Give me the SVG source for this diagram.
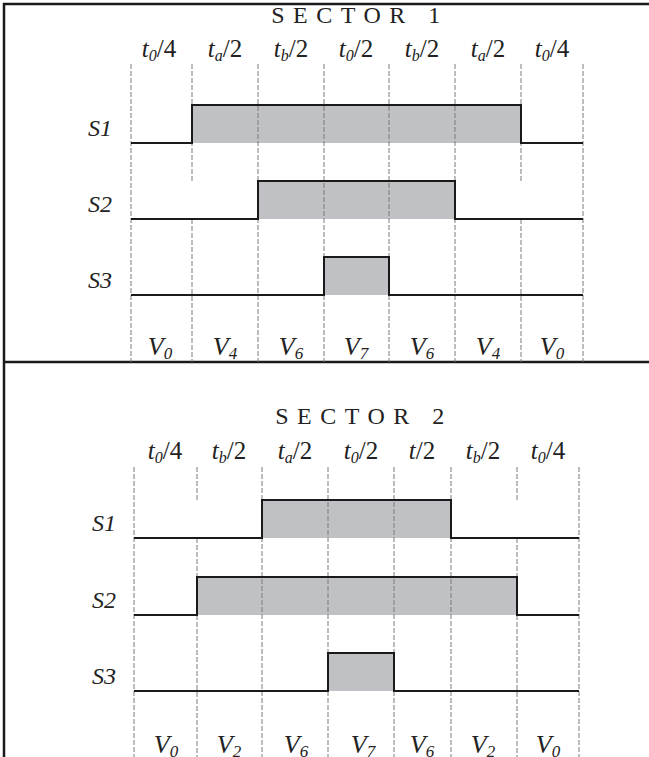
<svg xmlns="http://www.w3.org/2000/svg" width="649" height="757" viewBox="0 0 649 757">
<style>
.frame{stroke:#1a1a1a;stroke-width:2.5;fill:none}
.dash{stroke:#7a7a7a;stroke-width:1;stroke-dasharray:5,2;fill:none}
.sig{stroke:#1a1a1a;stroke-width:2;fill:none}
.fill{fill:#c0c1c4;stroke:none}
.title{font-family:"Liberation Serif",serif;font-size:24px;letter-spacing:8.5px;fill:#222;text-anchor:middle}
.lab{font-family:"Liberation Serif",serif;font-size:25px;fill:#222;text-anchor:middle}
.nm{font-family:"Liberation Serif",serif;font-size:24px;font-style:italic;fill:#222;text-anchor:middle}
.it{font-style:italic}
.sub{font-size:16px;font-style:italic}
.v{font-family:"Liberation Serif",serif;font-size:26px;font-style:italic;fill:#222;text-anchor:middle}
.vs{font-size:17px}
</style>
<rect width="649" height="757" fill="#fff"/>
<g id="frame">
<path class="frame" d="M4,757 V4 H649 M4,362 H649"/>
</g>
<g id="sector1">
<text class="title" x="360" y="23">SECTOR 1</text>
<g id="s1-times">
<text class="lab" x="159" y="57"><tspan class="it">t</tspan><tspan class="sub" dy="4">0</tspan><tspan dy="-4">/4</tspan></text>
<text class="lab" x="225" y="57"><tspan class="it">t</tspan><tspan class="sub" dy="4">a</tspan><tspan dy="-4">/2</tspan></text>
<text class="lab" x="291" y="57"><tspan class="it">t</tspan><tspan class="sub" dy="4">b</tspan><tspan dy="-4">/2</tspan></text>
<text class="lab" x="356" y="57"><tspan class="it">t</tspan><tspan class="sub" dy="4">0</tspan><tspan dy="-4">/2</tspan></text>
<text class="lab" x="422" y="57"><tspan class="it">t</tspan><tspan class="sub" dy="4">b</tspan><tspan dy="-4">/2</tspan></text>
<text class="lab" x="488" y="57"><tspan class="it">t</tspan><tspan class="sub" dy="4">a</tspan><tspan dy="-4">/2</tspan></text>
<text class="lab" x="552" y="57"><tspan class="it">t</tspan><tspan class="sub" dy="4">0</tspan><tspan dy="-4">/4</tspan></text>
</g>
<g id="s1-fills">
<rect class="fill" x="192" y="105" width="329" height="38"/>
<rect class="fill" x="258" y="181" width="197" height="38"/>
<rect class="fill" x="324" y="257" width="65" height="38"/>
</g>
<g id="s1-grid">
<path class="dash" d="M131,64 V362 M192,64 V181 M192,219 V362 M258,64 V362 M324,64 V362 M389,64 V362 M455,64 V362 M521,64 V181 M521,219 V362 M583,64 V362"/>
</g>
<g id="s1-signals">
<path class="sig" d="M131,143 H192 V105 H521 V143 H583"/>
<path class="sig" d="M131,219 H258 V181 H455 V219 H583"/>
<path class="sig" d="M131,295 H324 V257 H389 V295 H583"/>
</g>
<g id="s1-names">
<text class="nm" x="100" y="136">S1</text>
<text class="nm" x="100" y="212">S2</text>
<text class="nm" x="100" y="288">S3</text>
</g>
<g id="s1-vectors">
<text class="v" x="160" y="355">V<tspan class="vs" dy="4">0</tspan></text>
<text class="v" x="225" y="355">V<tspan class="vs" dy="4">4</tspan></text>
<text class="v" x="291" y="355">V<tspan class="vs" dy="4">6</tspan></text>
<text class="v" x="356" y="355">V<tspan class="vs" dy="4">7</tspan></text>
<text class="v" x="422" y="355">V<tspan class="vs" dy="4">6</tspan></text>
<text class="v" x="488" y="355">V<tspan class="vs" dy="4">4</tspan></text>
<text class="v" x="552" y="355">V<tspan class="vs" dy="4">0</tspan></text>
</g>
</g>
<g id="sector2">
<text class="title" x="364" y="424">SECTOR 2</text>
<g id="s2-times">
<text class="lab" x="165" y="459"><tspan class="it">t</tspan><tspan class="sub" dy="4">0</tspan><tspan dy="-4">/4</tspan></text>
<text class="lab" x="229" y="459"><tspan class="it">t</tspan><tspan class="sub" dy="4">b</tspan><tspan dy="-4">/2</tspan></text>
<text class="lab" x="295" y="459"><tspan class="it">t</tspan><tspan class="sub" dy="4">a</tspan><tspan dy="-4">/2</tspan></text>
<text class="lab" x="361" y="459"><tspan class="it">t</tspan><tspan class="sub" dy="4">0</tspan><tspan dy="-4">/2</tspan></text>
<text class="lab" x="422" y="459"><tspan class="it">t</tspan>/2</text>
<text class="lab" x="483" y="459"><tspan class="it">t</tspan><tspan class="sub" dy="4">b</tspan><tspan dy="-4">/2</tspan></text>
<text class="lab" x="548" y="459"><tspan class="it">t</tspan><tspan class="sub" dy="4">0</tspan><tspan dy="-4">/4</tspan></text>
</g>
<g id="s2-fills">
<rect class="fill" x="262" y="500" width="189" height="38"/>
<rect class="fill" x="197" y="577" width="320" height="38"/>
<rect class="fill" x="328" y="653" width="66" height="38"/>
</g>
<g id="s2-grid">
<path class="dash" d="M134,467 V757 M197,467 V500 M197,538 V757 M262,467 V757 M328,467 V757 M394,467 V757 M451,467 V757 M517,467 V500 M517,538 V757 M579,467 V757"/>
</g>
<g id="s2-signals">
<path class="sig" d="M134,538 H262 V500 H451 V538 H579"/>
<path class="sig" d="M134,615 H197 V577 H517 V615 H579"/>
<path class="sig" d="M134,691 H328 V653 H394 V691 H579"/>
</g>
<g id="s2-names">
<text class="nm" x="104" y="531">S1</text>
<text class="nm" x="104" y="608">S2</text>
<text class="nm" x="104" y="684">S3</text>
</g>
<g id="s2-vectors">
<text class="v" x="166" y="753">V<tspan class="vs" dy="4">0</tspan></text>
<text class="v" x="229" y="753">V<tspan class="vs" dy="4">2</tspan></text>
<text class="v" x="296" y="753">V<tspan class="vs" dy="4">6</tspan></text>
<text class="v" x="363" y="753">V<tspan class="vs" dy="4">7</tspan></text>
<text class="v" x="422" y="753">V<tspan class="vs" dy="4">6</tspan></text>
<text class="v" x="483" y="753">V<tspan class="vs" dy="4">2</tspan></text>
<text class="v" x="548" y="753">V<tspan class="vs" dy="4">0</tspan></text>
</g>
</g>
</svg>
